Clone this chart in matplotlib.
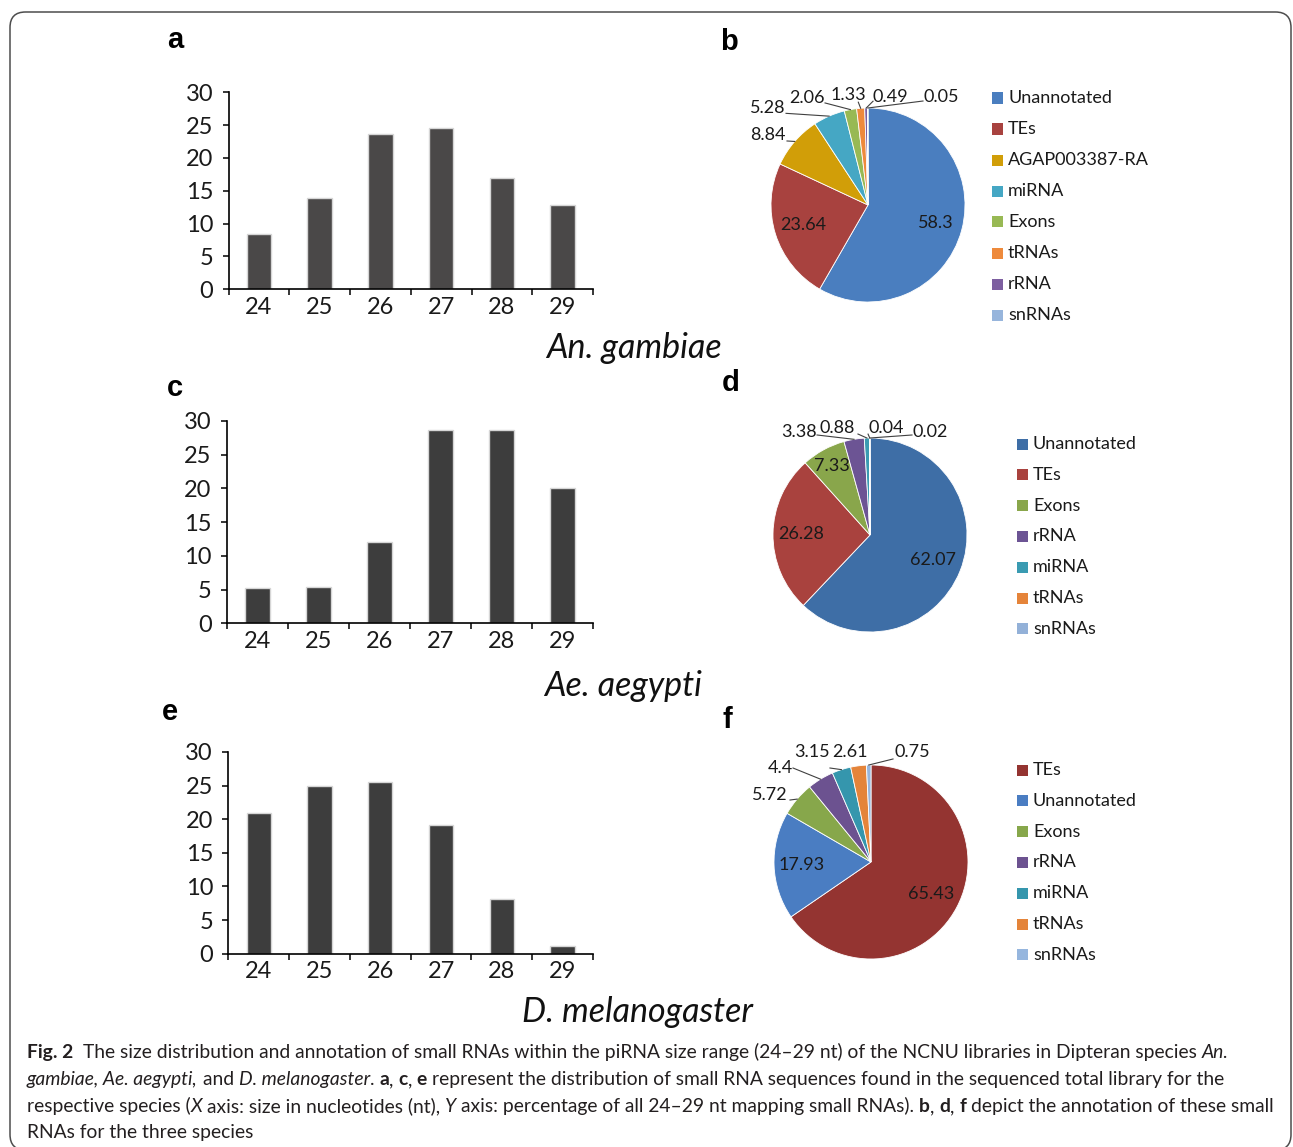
import matplotlib
matplotlib.use("Agg")
import matplotlib.pyplot as plt
from matplotlib.patches import FancyBboxPatch, Rectangle
import numpy as np

W, H = 1293, 1147

# --- size distributions (% of all 24-29 nt reads) ---
sizes = ["24", "25", "26", "27", "28", "29"]
gambiae_pct = [8.4, 13.9, 23.6, 24.6, 16.9, 12.8]
aegypti_pct = [5.2, 5.4, 12.0, 28.6, 28.7, 20.1]
melanogaster_pct = [20.9, 24.9, 25.6, 19.2, 8.1, 1.2]

# --- annotation shares ---
gambiae_classes = ["Unannotated", "TEs", "AGAP003387-RA", "miRNA", "Exons", "tRNAs", "rRNA", "snRNAs"]
gambiae_share = [58.3, 23.64, 8.84, 5.28, 2.06, 1.33, 0.49, 0.05]
gambiae_colors = ["#4a7ebf", "#a8423f", "#d19e08", "#45a7c4", "#98b954", "#ee8a3c", "#7d5fa0", "#97b5dc"]

aegypti_classes = ["Unannotated", "TEs", "Exons", "rRNA", "miRNA", "tRNAs", "snRNAs"]
aegypti_share = [62.07, 26.28, 7.33, 3.38, 0.88, 0.04, 0.02]
aegypti_colors = ["#3e6ea6", "#a9423e", "#89a64b", "#6c5494", "#3a9bb2", "#e5843a", "#93b1d8"]

melanogaster_classes = ["TEs", "Unannotated", "Exons", "rRNA", "miRNA", "tRNAs", "snRNAs"]
melanogaster_share = [65.43, 17.93, 5.72, 4.4, 3.15, 2.61, 0.75]
melanogaster_colors = ["#943431", "#4a7dc2", "#87a74b", "#6c5290", "#3596ad", "#e4843a", "#96b6de"]

FONT = "Lato"
NARROW = ["Liberation Sans Narrow", "Liberation Sans"]

fig = plt.figure(figsize=(W / 100, H / 100), dpi=100)
fig.patch.set_facecolor("white")

# rounded frame around the whole figure
frame = FancyBboxPatch((10 / W, 1 - 1150 / H), 1281 / W, 1138 / H,
                       boxstyle="round,pad=0,rounding_size=0.012",
                       transform=fig.transFigure, facecolor="none",
                       edgecolor="#4d4d4d", linewidth=1.1, mutation_aspect=W / H)
fig.add_artist(frame)


def draw_bars(left, right, y0, y30, values, color):
    ax = fig.add_axes([left / W, 1 - y0 / H, (right - left) / W, (y0 - y30) / H])
    x = np.arange(len(sizes))
    ax.bar(x, values, width=0.4, color=color, edgecolor="#d6d6d6", linewidth=1.0)
    ax.set_xlim(-0.5, len(sizes) - 0.5)
    ax.set_ylim(0, 30)
    ax.set_yticks(range(0, 31, 5))
    ax.set_xticks(x)
    ax.set_xticklabels(sizes)
    ax.set_xticks(np.arange(-0.5, len(sizes), 1), minor=True)
    ax.tick_params(axis="x", which="major", length=0, pad=5.5)
    ax.tick_params(axis="x", which="minor", length=4, width=1.1, direction="out")
    ax.tick_params(axis="y", length=4, width=1.1, direction="out", pad=7)
    for lab in ax.get_xticklabels() + ax.get_yticklabels():
        lab.set_fontfamily(FONT)
        lab.set_fontsize(17)
        lab.set_color("#1a1a1a")
    for s in ("top", "right"):
        ax.spines[s].set_visible(False)
    for s in ("left", "bottom"):
        ax.spines[s].set_linewidth(1.2)
    return ax


def draw_pie(cx, cy, classes, shares, colors, inner, outer, lx, ly0, pitch):
    R = 97.0
    ax = fig.add_axes([(cx - 1.7 * R) / W, 1 - (cy + 1.4 * R) / H, 3.4 * R / W, 2.9 * R / H])
    wedges, _ = ax.pie(shares, colors=colors, startangle=90, counterclock=False, radius=1,
                       wedgeprops=dict(edgecolor="white", linewidth=0.6))
    ax.set_xlim(-1.7, 1.7)
    ax.set_ylim(-1.4, 1.5)
    ax.set_aspect("auto")
    ax.axis("off")
    for w, cls, val in zip(wedges, classes, shares):
        mid = np.deg2rad((w.theta1 + w.theta2) / 2)
        label = f"{val:g}"
        if cls in inner:
            r = inner[cls]
            ax.text(r * np.cos(mid), r * np.sin(mid), label, ha="center", va="center",
                    fontsize=13, family=FONT, color="#1a1a1a")
        else:
            tx, ty, anchor = outer[cls]
            ax.text(tx, ty, label, ha="center", va="center", fontsize=13,
                    family=FONT, color="#1a1a1a", clip_on=False)
            if anchor is not None:
                ax.plot([anchor[0], np.cos(mid)], [anchor[1], np.sin(mid)],
                        color="#404040", linewidth=0.8, clip_on=False)
    # legend: small squares with labels
    for i, (cls, col) in enumerate(zip(classes, colors)):
        y = ly0 + i * pitch
        fig.add_artist(Rectangle(((lx) / W, 1 - (y + 5.5) / H), 11 / W, 11 / H,
                                 transform=fig.transFigure, facecolor=col, edgecolor="none"))
        fig.text((lx + 16) / W, 1 - y / H, cls, ha="left", va="center", fontsize=13,
                 family=FONT, color="#1a1a1a")
    return ax


# size distributions
draw_bars(228.5, 593, 289.3, 92.3, gambiae_pct, "#4a4848")
draw_bars(227.0, 593, 623.3, 421.0, aegypti_pct, "#3d3d3d")
draw_bars(228.3, 593, 953.7, 752.0, melanogaster_pct, "#3d3d3d")

# annotation pies
draw_pie(868, 205, gambiae_classes, gambiae_share, gambiae_colors,
         inner={"Unannotated": 0.72, "TEs": 0.7},
         outer={"AGAP003387-RA": (-1.036, 0.72, (-0.835, 0.66)),
                "miRNA": (-1.036, 0.997, (-0.845, 0.945)),
                "Exons": (-0.634, 1.108, (-0.443, 1.052)),
                "tRNAs": (-0.201, 1.129, (-0.1, 1.06)),
                "rRNA": (0.232, 1.110, (0.052, 1.07)),
                "snRNAs": (0.758, 1.110, (0.567, 1.072))},
         lx=992, ly0=98, pitch=31.0)

draw_pie(870, 535, aegypti_classes, aegypti_share, aegypti_colors,
         inner={"Unannotated": 0.7, "TEs": 0.71, "Exons": 0.815},
         outer={"rRNA": (-0.727, 1.067, (-0.546, 1.031)),
                "miRNA": (-0.335, 1.103, (-0.124, 1.041)),
                "tRNAs": (0.170, 1.106, (-0.02, 1.04)),
                "snRNAs": (0.619, 1.065, (0.433, 1.031))},
         lx=1017, ly0=444, pitch=30.8)

draw_pie(871, 862, melanogaster_classes, melanogaster_share, melanogaster_colors,
         inner={"TEs": 0.7, "Unannotated": 0.72},
         outer={"Exons": (-1.046, 0.69, (-0.835, 0.639)),
                "rRNA": (-0.933, 0.964, (-0.804, 0.969)),
                "miRNA": (-0.613, 1.134, (-0.423, 0.969)),
                "tRNAs": (-0.216, 1.134, None),
                "snRNAs": (0.423, 1.134, (0.227, 1.062))},
         lx=1017, ly0=770, pitch=30.8)

# panel letters
for letter, (x, y) in {"a": (175, 40), "b": (729, 42), "c": (175, 388),
                       "d": (731, 383), "e": (170, 712), "f": (727, 720)}.items():
    fig.text(x / W, 1 - y / H, letter, ha="center", va="center", fontsize=21,
             fontweight="bold", family=NARROW)

# species names
for name, (x, y) in {"An. gambiae": (634, 348), "Ae. aegypti": (623, 686),
                     "D. melanogaster": (637, 1012)}.items():
    fig.text(x / W, 1 - y / H, name, ha="center", va="center", fontsize=24.5,
             fontstyle="italic", family=FONT, color="#111111")

# caption, built from styled runs
N, B, I = ("normal", "normal"), ("bold", "normal"), ("normal", "italic")
caption = [
    [("Fig. 2", B), ("  The size distribution and annotation of small RNAs within the piRNA size range "
                     "(24\u201329 nt) of the NCNU libraries in Dipteran species ", N), ("An.", I)],
    [("gambiae, Ae. aegypti,", I), (" and ", N), ("D. melanogaster", I), (". ", N), ("a", B), (", ", N),
     ("c", B), (", ", N), ("e", B),
     (" represent the distribution of small RNA sequences found in the sequenced total library for the", N)],
    [("respective species (", N), ("X", I), (" axis: size in nucleotides (nt), ", N), ("Y", I),
     (" axis: percentage of all 24\u201329 nt mapping small RNAs). ", N), ("b", B), (", ", N), ("d", B),
     (", ", N), ("f", B), (" depict the annotation of these small", N)],
    [("RNAs for the three species", N)],
]
renderer = fig.canvas.get_renderer()


def run_width(txt, size, style):
    weight, slant = style
    out = []
    for s in ("|" + txt + "|", "||"):
        t = fig.text(0, 0, s, fontsize=size, fontweight=weight, fontstyle=slant, family=FONT)
        out.append(t.get_window_extent(renderer).width)
        t.remove()
    return out[0] - out[1]


base = 10.0
longest = sum(run_width(txt, base, st) for txt, st in caption[2])
cap_size = base * (1278 - 27) / longest

baselines = [1058, 1085, 1112, 1138]
for runs, yb in zip(caption, baselines):
    x = 27.0
    for txt, (weight, slant) in runs:
        lead = len(txt) - len(txt.lstrip(" "))
        dx = run_width(" " * lead, cap_size, (weight, slant)) if lead else 0.0
        fig.text((x + dx) / W, 1 - yb / H, txt.lstrip(" "), ha="left", va="baseline",
                 fontsize=cap_size, fontweight=weight, fontstyle=slant, family=FONT,
                 color="#231f20")
        x += run_width(txt, cap_size, (weight, slant))

fig.savefig("out.png", dpi=100)
